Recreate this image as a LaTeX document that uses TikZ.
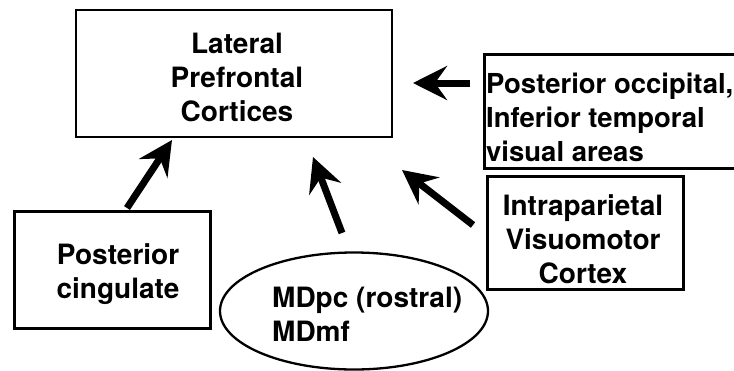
\documentclass[tikz,border=0pt]{standalone}
\usepackage{fontspec}
\setmainfont{TeX Gyre Heros}
\usetikzlibrary{arrows.meta,shapes.geometric}
\tikzset{
  boxshape/.style={draw, line width=2.6pt, rectangle, inner sep=0pt, minimum width=#1},
  ovalshape/.style={draw, line width=2.3pt, ellipse, inner sep=0pt},
  lbl/.style={inner sep=0pt, font=\fontsize{28}{34}\selectfont\bfseries},
  lblnarrow/.style={inner sep=0pt, font=\fontsize{27.5}{34}\selectfont\bfseries},
  bigarrow/.style={line width=7pt, -{Stealth[length=34pt,width=34pt,inset=12pt]}},
}
\begin{document}
\begin{tikzpicture}[x=1pt,y=-1pt]
\useasboundingbox (0,0) rectangle (734,370);
\clip (0,0) rectangle (734,370);

% boxes
\node[boxshape=316pt, minimum height=127pt] (lpc) at (234,73.5) {};
\node[boxshape=260pt, minimum height=114pt, anchor=north west] (po) at (483,53) {};
\node[boxshape=196pt, minimum height=113pt, anchor=north west] (ip) at (486,175) {};
\node[boxshape=196pt, minimum height=117pt, anchor=north west] (pc) at (13,210) {};
\node[ovalshape, minimum width=268pt, minimum height=117pt] (md) at (354,311) {};

% labels
\node[lbl, align=center] (lpc-t) at (237,77.5) {Lateral\\Prefrontal\\Cortices};
\node[lblnarrow, align=left, anchor=west] (po-t) at (486,117) {Posterior occipital,\\Inferior temporal\\visual areas};
\node[lbl, align=center] (ip-t) at (583,239) {Intraparietal\\Visuomotor\\Cortex};
\node[lbl, align=center] (pc-t) at (118,274) {Posterior\\cingulate};
\node[lbl, align=left, anchor=west] (md-t) at (272,314) {MDpc (rostral)\\MDmf};

% arrow ends
\coordinate (pc-a) at (127,208);  \coordinate (pc-b) at (172,140);
\coordinate (md-a) at (342,233);  \coordinate (md-b) at (313,157);
\coordinate (ip-a) at (473,225);  \coordinate (ip-b) at (402,170);
\coordinate (po-a) at (470,83);   \coordinate (po-b) at (413,83);

% projections
\draw[bigarrow] (pc-a) -- (pc-b);
\draw[bigarrow] (md-a) -- (md-b);
\draw[bigarrow] (ip-a) -- (ip-b);
\draw[bigarrow] (po-a) -- (po-b);
\end{tikzpicture}
\end{document}
